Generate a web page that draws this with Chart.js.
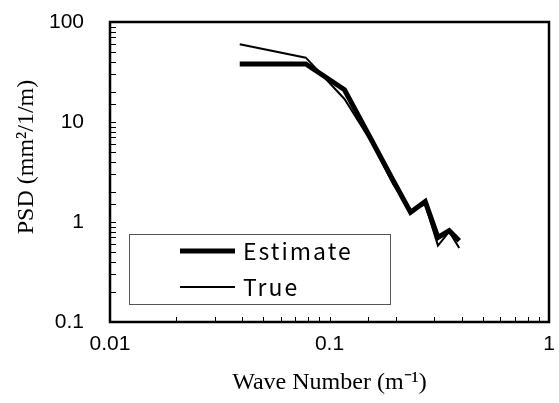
<!DOCTYPE html>
<html>
<head>
<meta charset="utf-8">
<script src="https://cdn.jsdelivr.net/npm/chart.js@4"></script>
<style>
  body { margin: 0; background: #fff; }
</style>
</head>
<body>
<canvas id="psdChart" width="559" height="403"></canvas>
<script>
// Wave numbers (1/m)
const waveNumber = [0.039, 0.078, 0.117, 0.156, 0.195, 0.234, 0.273, 0.312, 0.351, 0.39];

// PSD values (mm2/1/m)
const estimatePsd = [38, 38, 21, 6.5, 2.6, 1.25, 1.6, 0.7, 0.82, 0.65];
const truePsd = [60, 44, 17, 6.2, 2.4, 1.3, 1.5, 0.58, 0.8, 0.55];

const seriesNames = ['Estimate', 'True'];
const xTickLabels = ['0.01', '0.1', '1'];
const yTickLabels = ['0.1', '1', '10', '100'];

const toPoints = (xs, ys) => xs.map((x, i) => ({ x: x, y: ys[i] }));

const isDecade = v => Math.abs(Math.log10(v) - Math.round(Math.log10(v))) < 1e-6;
const labelFor = (list) => (v) => {
  if (!isDecade(v)) return '';
  const hit = list.find(s => Math.abs(parseFloat(s) - v) < v * 1e-6);
  return hit || '';
};

// frame, inward ticks, legend box and y title
const decorations = {
  id: 'decorations',
  afterDraw(chart) {
    const ctx = chart.ctx;
    const area = chart.chartArea;
    const xs = chart.scales.x;
    const ys = chart.scales.y;
    ctx.save();
    ctx.strokeStyle = '#000';

    // ticks
    ctx.lineWidth = 1;
    ctx.beginPath();
    xs.ticks.forEach(t => {
      const px = Math.round(xs.getPixelForValue(t.value)) + 0.5;
      ctx.moveTo(px, area.bottom);
      ctx.lineTo(px, area.bottom - 5);
    });
    ys.ticks.forEach(t => {
      const py = Math.round(ys.getPixelForValue(t.value)) + 0.5;
      ctx.moveTo(area.left, py);
      ctx.lineTo(area.left + 6, py);
    });
    ctx.stroke();

    // frame
    ctx.lineWidth = 2.5;
    ctx.strokeRect(area.left, area.top, area.right - area.left, area.bottom - area.top);

    // legend
    ctx.lineWidth = 1;
    ctx.strokeStyle = '#555';
    ctx.strokeRect(129.5, 234.5, 261, 70);
    ctx.strokeStyle = '#000';
    ctx.fillStyle = '#000';
    ctx.font = '23px "Noto Sans CJK JP"';
    ctx.textBaseline = 'middle';
    ctx.letterSpacing = '2px';
    chart.data.datasets.forEach((ds, i) => {
      const rowY = i === 0 ? 251 : 287;
      ctx.lineWidth = ds.borderWidth;
      ctx.beginPath();
      ctx.moveTo(180, rowY);
      ctx.lineTo(235, rowY);
      ctx.stroke();
      ctx.fillText(ds.label, 243, rowY);
    });
    ctx.letterSpacing = '0px';

    // y title
    ctx.translate(27, 157);
    ctx.rotate(-Math.PI / 2);
    ctx.textAlign = 'center';
    ctx.font = '24px "Liberation Serif"';
    ctx.fillText('PSD (mm\u00b2/1/m)', 0, 0);
    ctx.restore();
  }
};

new Chart(document.getElementById('psdChart'), {
  type: 'line',
  data: {
    datasets: [
      {
        label: seriesNames[0],
        data: toPoints(waveNumber, estimatePsd),
        borderColor: '#000',
        borderWidth: 5,
        pointRadius: 0,
        fill: false,
        tension: 0
      },
      {
        label: seriesNames[1],
        data: toPoints(waveNumber, truePsd),
        borderColor: '#000',
        borderWidth: 2,
        pointRadius: 0,
        fill: false,
        tension: 0
      }
    ]
  },
  options: {
    responsive: false,
    animation: false,
    devicePixelRatio: 1,
    layout: { padding: { left: 0, top: 22, right: 10, bottom: 0 } },
    plugins: {
      legend: { display: false },
      tooltip: { enabled: false }
    },
    scales: {
      x: {
        type: 'logarithmic',
        min: 0.01,
        max: 1,
        grid: { display: false },
        border: { display: false },
        ticks: {
          autoSkip: false,
          maxRotation: 0,
          padding: 2,
          color: '#000',
          font: { family: 'Liberation Sans', size: 21 },
          callback: labelFor(xTickLabels)
        },
        title: {
          display: true,
          text: 'Wave Number (m\u207b\u00b9)',
          color: '#000',
          font: { family: 'Liberation Serif', size: 24 },
          padding: { top: 0, bottom: 6 }
        },
        afterFit: scale => {
          scale.height = 81;
          scale.paddingLeft = 0;
          scale.paddingRight = 0;
        }
      },
      y: {
        type: 'logarithmic',
        min: 0.1,
        max: 100,
        grid: { display: false },
        border: { display: false },
        ticks: {
          autoSkip: false,
          padding: 18,
          color: '#000',
          font: { family: 'Liberation Sans', size: 21 },
          callback: labelFor(yTickLabels)
        },
        afterFit: scale => {
          scale.width = 110;
          scale.paddingTop = 0;
          scale.paddingBottom = 0;
        }
      }
    }
  },
  plugins: [decorations]
});
</script>
</body>
</html>
